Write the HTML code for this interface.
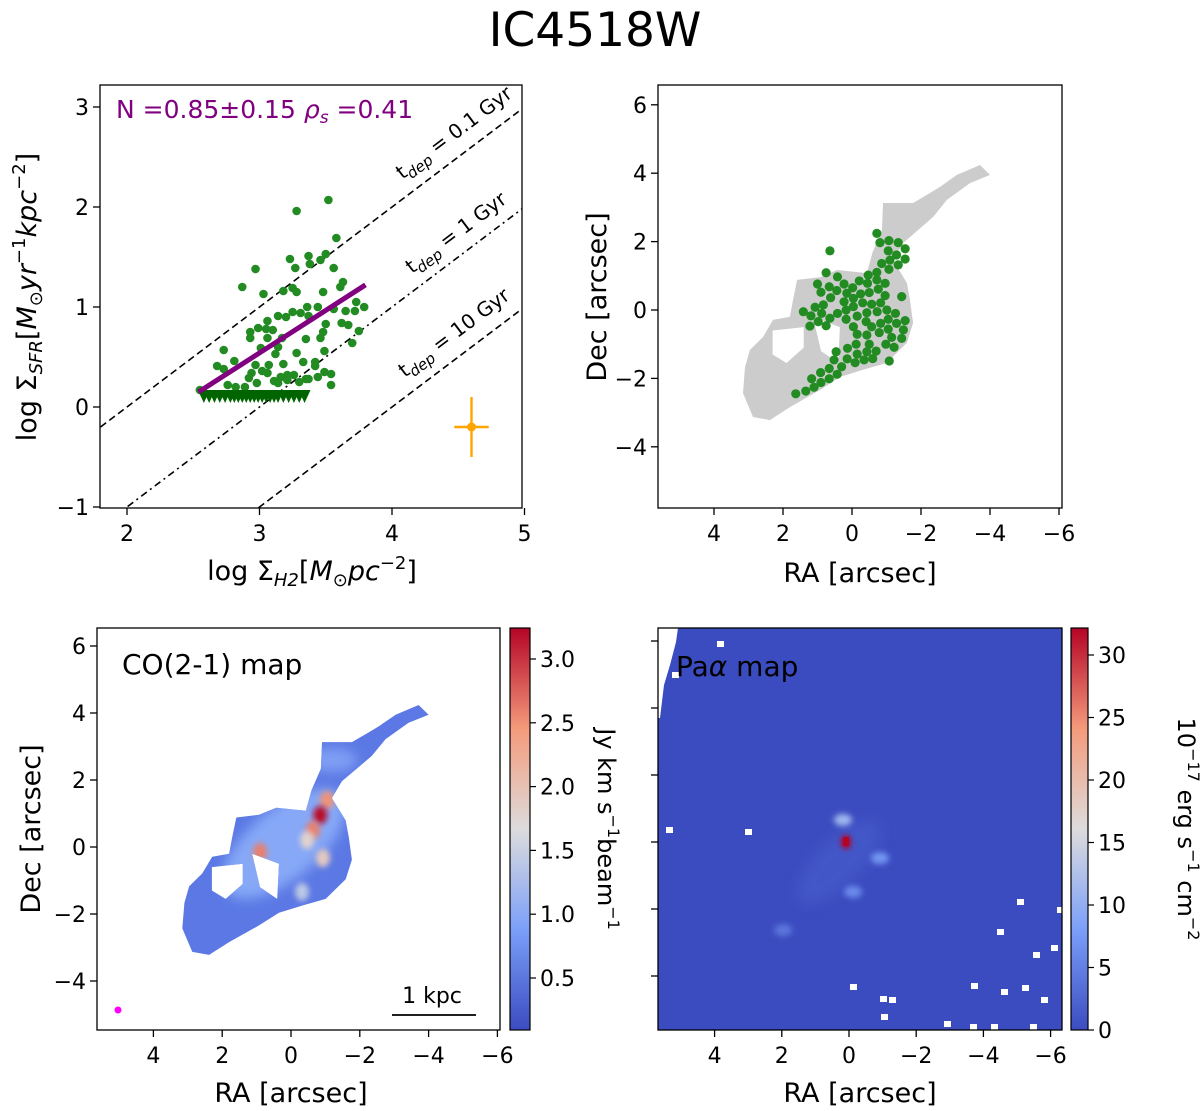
<!DOCTYPE html>
<html><head><meta charset="utf-8">
<style>
html,body{margin:0;padding:0;background:#fff;}
svg{display:block;font-family:"DejaVu Sans","Liberation Sans",sans-serif;}
</style></head>
<body>
<svg id="fig" width="1200" height="1111" viewBox="0 0 1200 1111" xmlns="http://www.w3.org/2000/svg">
<defs>
<filter id="blur3" x="-50%" y="-50%" width="200%" height="200%"><feGaussianBlur stdDeviation="3"/></filter>
<filter id="blur6" x="-50%" y="-50%" width="200%" height="200%"><feGaussianBlur stdDeviation="6"/></filter>
<linearGradient id="cw" x1="0" y1="1" x2="0" y2="0">
<stop offset="0" stop-color="#3b4cc0"/><stop offset="0.25" stop-color="#7b9ff9"/>
<stop offset="0.5" stop-color="#dddcdc"/><stop offset="0.75" stop-color="#f49a7b"/>
<stop offset="1" stop-color="#b40426"/></linearGradient>
<clipPath id="paclip"><rect x="658" y="628" width="404" height="402"/></clipPath>
</defs>
<text x="595" y="46" font-size="47" text-anchor="middle">IC4518W</text>
<g id="g1"></g>
<g id="g2"></g>
<g id="g3"></g>
<g id="g4"></g>
</svg>
<script>
// ---- data ----
const ksX=[3.52,3.28,3.58,3.37,3.50,3.23,3.46,3.38,3.27,3.56,2.97,3.63,3.61,2.87,3.25,3.28,3.18,3.48,3.03,3.73,3.79,3.36,3.44,3.65,3.72,3.25,3.31,3.37,3.14,3.20,3.06,3.56,3.62,3.67,3.50,2.99,2.93,3.05,3.10,3.75,2.93,3.06,3.48,3.46,3.35,3.70,3.17,3.14,3.01,2.73,3.49,3.28,3.12,2.81,2.68,2.73,2.97,3.07,3.18,3.33,3.42,3.42,3.02,3.06,2.94,3.16,3.21,3.26,3.35,3.37,3.44,3.49,3.54,3.54,2.92,2.98,3.11,3.14,2.76,2.82,2.89,3.30,3.21,2.55];
const ksY=[2.07,1.96,1.69,1.51,1.53,1.48,1.47,1.43,1.39,1.39,1.38,1.25,1.20,1.20,1.19,1.15,1.16,1.15,1.13,1.05,1.00,1.00,1.00,0.96,0.96,0.95,0.94,0.91,0.91,0.90,0.86,0.98,0.84,0.82,0.83,0.79,0.75,0.78,0.77,0.76,0.69,0.69,0.75,0.69,0.68,0.64,0.69,0.60,0.59,0.57,0.56,0.54,0.53,0.46,0.41,0.38,0.42,0.42,0.43,0.45,0.45,0.41,0.36,0.34,0.34,0.30,0.32,0.32,0.28,0.28,0.30,0.35,0.33,0.22,0.29,0.24,0.26,0.24,0.22,0.20,0.20,0.25,0.27,0.17];
const limX=[2.58,2.62,2.66,2.70,2.74,2.78,2.81,2.84,2.87,2.90,2.93,2.96,2.99,3.02,3.05,3.08,3.11,3.14,3.18,3.22,3.26,3.30,3.34];
const limY=0.11;
const fitSlope=0.85, fitX0=2.54, fitY0=0.15, fitX1=3.80;
const tdepOffsets=[-2,-3,-4];
const errPoint={x:4.6,y:-0.2,xe:0.13,ye:0.3};
const ksXTicks=[2,3,4,5], ksYTicks=[-1,0,1,2,3];
const pixRA=[-0.72,-0.81,-1.07,-1.34,-1.54,-1.05,-1.29,-1.54,-1.10,-0.86,-1.34,-1.07,0.64,0.75,0.42,1.00,0.66,0.90,0.44,0.23,-0.02,-0.21,-0.47,-0.72,-0.45,-0.72,-0.96,0.15,-0.04,-0.25,-0.50,-0.76,-0.96,-1.44,0.62,0.83,1.07,0.23,-0.04,-0.31,-0.57,-0.83,1.41,1.19,0.88,0.64,0.98,1.22,0.75,0.42,0.17,0.17,-0.15,-0.43,-0.73,-1.01,-1.26,-0.41,-0.57,-0.83,-1.05,-1.29,-1.54,-0.04,-0.15,-0.43,-0.79,-1.05,-1.15,-1.49,-1.44,-0.98,-1.22,0.13,-0.12,-0.50,-0.70,-0.15,-0.43,0.46,0.14,-0.09,-0.35,-0.60,-1.08,0.52,0.30,0.66,0.91,0.43,0.66,1.17,0.90,1.10,1.34,1.63];
const pixDec=[2.24,1.97,2.03,1.97,1.79,1.73,1.61,1.49,1.46,1.36,1.32,1.19,1.73,1.09,0.97,0.76,0.68,0.52,0.57,0.76,0.65,0.85,1.02,1.10,0.78,0.88,0.78,0.49,0.34,0.47,0.51,0.61,0.42,0.39,0.36,0.15,0.08,0.24,0.10,0.21,0.17,0.21,-0.05,-0.17,-0.10,-0.24,-0.34,-0.47,-0.46,-0.10,0.00,-0.27,-0.18,-0.08,-0.05,0.00,-0.10,-0.34,-0.49,-0.39,-0.27,-0.39,-0.31,-0.49,-0.71,-0.73,-0.66,-0.56,-0.80,-0.58,-0.83,-1.00,-1.09,-1.12,-1.00,-1.00,-1.20,-1.29,-1.22,-1.22,-1.43,-1.54,-1.46,-1.42,-1.49,-1.46,-1.66,-1.71,-1.83,-1.88,-2.01,-2.01,-2.12,-2.26,-2.37,-2.45];
const gasRA=[-4.0,-3.71,-3.04,-2.55,-2.26,-1.77,-0.9,-0.87,-0.6,-0.43,0.43,0.93,1.59,1.71,1.8,2.29,2.58,2.96,3.1,3.16,2.87,2.38,1.8,0.93,0.35,-0.32,-1.01,-1.59,-1.77,-1.68,-1.59,-1.19,-1.48,-2.35,-2.75,-3.42];
const gasDec=[3.95,4.24,3.95,3.6,3.42,3.13,3.13,2.34,1.7,1.08,1.17,0.96,0.88,0.29,-0.2,-0.29,-0.79,-1.17,-1.67,-2.43,-3.13,-3.22,-2.84,-2.34,-1.96,-1.75,-1.55,-0.96,-0.38,0.29,0.79,1.46,1.96,2.72,3.22,3.71];
const holeRA=[[2.3,1.4,1.4,1.9,2.3],[1.13,0.35,0.4,0.9]];
const holeDec=[[-0.6,-0.5,-1.1,-1.55,-1.3],[-0.2,-0.5,-1.55,-1.2]];
const coBlobRA=[-1.05,-0.85,-0.64,0.9,-0.47,-0.93,-0.32];
const coBlobDec=[1.40,0.95,0.51,-0.15,0.21,-0.33,-1.34];
const coBlobVal=[2.5,3.2,2.6,2.6,1.8,1.9,1.4];
const coTicks=[0.5,1.0,1.5,2.0,2.5,3.0];
const paBlobRA=[0.09,0.18,-0.92,-0.12,1.96];
const paBlobDec=[0.0,0.66,-0.48,-1.49,-2.63];
const paBlobVal=[32,11,7,6,4];
const paTicks=[0,5,10,15,20,25,30];
const raTicks=[4,2,0,-2,-4,-6], decTicks=[-4,-2,0,2,4,6];

// ---- helpers ----
const NS='http://www.w3.org/2000/svg';
const TF=22, AF=27;
function mk(parent,tag,attrs,text){const e=document.createElementNS(NS,tag);for(const k in attrs)e.setAttribute(k,attrs[k]);if(text!==undefined)e.textContent=text;parent.appendChild(e);return e;}
function lin(d0,d1,r0,r1){return v=>r0+(v-d0)*(r1-r0)/(d1-d0);}
function fmt(v){return (v<0?'\u2212':'')+Math.abs(v);}
function cwColor(t){t=Math.max(0,Math.min(1,t));const st=[[59,76,192],[123,159,249],[221,220,220],[244,154,123],[180,4,38]];const f=t*4,i=Math.min(3,Math.floor(f)),u=f-i;const a=st[i],b=st[i+1];return 'rgb('+a.map((c,j)=>Math.round(c+(b[j]-c)*u)).join(',')+')';}
function frame(g,x0,y0,x1,y1){const r=mk(g,'rect',{x:x0,y:y0,width:x1-x0,height:y1-y0,fill:'none',stroke:'#000','stroke-width':1.3});}
function xticks(g,ticks,sx,yb,labels){ticks.forEach(t=>{const x=sx(t);const l=mk(g,'line',{x1:x,x2:x,y1:yb,y2:yb+7,stroke:'#000','stroke-width':1.3});if(labels){const tx=mk(g,'text',{x:x,y:yb+33,'font-size':TF,'text-anchor':'middle'},fmt(t));}});}
function yticks(g,ticks,sy,xl,labels){ticks.forEach(t=>{const y=sy(t);const l=mk(g,'line',{x1:xl-7,x2:xl,y1:y,y2:y,stroke:'#000','stroke-width':1.3});if(labels){const tx=mk(g,'text',{x:xl-11,y:y+8,'font-size':TF,'text-anchor':'end'},fmt(t));}});}
function pathD(sx,sy,ra,dec){return 'M'+ra.map((r,i)=>sx(r).toFixed(1)+' '+sy(dec[i]).toFixed(1)).join('L')+'Z';}

// ---- panel 1: KS relation ----
(function(){
const g=document.getElementById('g1');
const sx=lin(2,5,127,524.5), sy=lin(0,3,407,107);
const X0=100,X1=522,Y0=85,Y1=508;
const clip=mk(g,'clipPath',{id:'c1'});mk(clip,'rect',{x:X0,y:Y0,width:X1-X0,height:Y1-Y0});
const cg=mk(g,'g',{'clip-path':'url(#c1)'});
const dashes=['7,4','7,4,2,4','7,4'];
tdepOffsets.forEach((o,i)=>{const l=mk(cg,'line',{x1:sx(1.8),y1:sy(1.8+o),x2:sx(5.1),y2:sy(5.1+o),stroke:'#000','stroke-width':1.6,'stroke-dasharray':dashes[i]});});
const labs=[['0.1',458,138],['1',460,238],['10',458,338]];
labs.forEach(([v,x,y])=>{const t=mk(cg,'text',{x:x,y:y,'font-size':20,'text-anchor':'middle',transform:'rotate(-37 '+x+' '+y+')'});
mk(t,'tspan',{},'t');mk(t,'tspan',{'font-size':15,'font-style':'italic',dy:5},'dep');mk(t,'tspan',{dy:-5},' = '+v+' Gyr');});
ksX.forEach((x,i)=>{const c=mk(cg,'circle',{cx:sx(x),cy:sy(ksY[i]),r:4.3,fill:'#228b22'});});
limX.forEach(x=>{const px=sx(x),py=sy(limY);const p=mk(cg,'polygon',{points:(px-6)+','+(py-6)+' '+(px+6)+','+(py-6)+' '+px+','+(py+7),fill:'#006400'});});
const fl=mk(cg,'line',{x1:sx(fitX0),y1:sy(fitY0),x2:sx(fitX1),y2:sy(fitY0+fitSlope*(fitX1-fitX0)),stroke:'#800080','stroke-width':5});
const ex=sx(errPoint.x),ey=sy(errPoint.y);
const eb=mk(g,'g',{stroke:'#ffa500','stroke-width':2.4});
mk(eb,'line',{x1:ex,x2:ex,y1:sy(errPoint.y+errPoint.ye),y2:sy(errPoint.y-errPoint.ye)});
mk(eb,'line',{x1:sx(errPoint.x-errPoint.xe),x2:sx(errPoint.x+errPoint.xe),y1:ey,y2:ey});
mk(eb,'circle',{cx:ex,cy:ey,r:4.5,fill:'#ffa500',stroke:'none'});
frame(g,X0,Y0,X1,Y1);
xticks(g,ksXTicks,sx,Y1,true);yticks(g,ksYTicks,sy,X0,true);
const ann=mk(g,'text',{x:116,y:118,'font-size':25,fill:'#800080'});
mk(ann,'tspan',{},'N =0.85\u00b10.15 ');mk(ann,'tspan',{'font-style':'italic'},'\u03c1');mk(ann,'tspan',{'font-size':17,dy:5,'font-style':'italic'},'s');mk(ann,'tspan',{dy:-5},' =0.41');
const xl=mk(g,'text',{x:312,y:580,'font-size':AF,'text-anchor':'middle'});
mk(xl,'tspan',{},'log \u03a3');mk(xl,'tspan',{'font-size':18,dy:6,'font-style':'italic'},'H2');mk(xl,'tspan',{dy:-6},'[');mk(xl,'tspan',{'font-style':'italic'},'M');mk(xl,'tspan',{'font-size':18,dy:6},'\u2299');mk(xl,'tspan',{dy:-6,'font-style':'italic'},'pc');mk(xl,'tspan',{'font-size':18,dy:-11},'\u22122');mk(xl,'tspan',{dy:11},']');
const yl=mk(g,'text',{x:36,y:297,'font-size':AF,'text-anchor':'middle',transform:'rotate(-90 36 297)'});
mk(yl,'tspan',{},'log \u03a3');mk(yl,'tspan',{'font-size':18,dy:6,'font-style':'italic'},'SFR');mk(yl,'tspan',{dy:-6},'[');mk(yl,'tspan',{'font-style':'italic'},'M');mk(yl,'tspan',{'font-size':18,dy:6},'\u2299');mk(yl,'tspan',{dy:-6,'font-style':'italic'},'yr');mk(yl,'tspan',{'font-size':18,dy:-11},'\u22121');mk(yl,'tspan',{dy:11,'font-style':'italic'},'kpc');mk(yl,'tspan',{'font-size':18,dy:-11},'\u22122');mk(yl,'tspan',{dy:11},']');
})();

function axisTitles(g,cx,cy,xlab,ylab){const t=mk(g,'text',{x:cx,y:cy,'font-size':AF,'text-anchor':'middle'},xlab);
if(ylab){const y=mk(g,'text',{x:ylab[0],y:ylab[1],'font-size':AF,'text-anchor':'middle',transform:'rotate(-90 '+ylab[0]+' '+ylab[1]+')'},'Dec [arcsec]');}}

// ---- panel 2: pixel map ----
(function(){
const g=document.getElementById('g2');
const sx=lin(0,1,852,817.5), sy=lin(0,1,310,275.8);
let d=pathD(sx,sy,gasRA,gasDec);holeRA.forEach((h,i)=>{d+=pathD(sx,sy,h,holeDec[i]);});
const gp=mk(g,'path',{d:d,fill:'#cccccc','fill-rule':'evenodd'});
pixRA.forEach((r,i)=>{const c=mk(g,'circle',{cx:sx(r),cy:sy(pixDec[i]),r:4.6,fill:'#228b22'});});
frame(g,658,85,1062,508);
xticks(g,raTicks,sx,508,true);yticks(g,decTicks,sy,658,true);
axisTitles(g,860,582,'RA [arcsec]',[606,297]);
})();

// ---- panel 3: CO map ----
(function(){
const g=document.getElementById('g3');
const sx=lin(0,1,291,256.6), sy=lin(0,1,847,813.5);
const cp=mk(g,'clipPath',{id:'coclip'});let d=pathD(sx,sy,gasRA,gasDec);holeRA.forEach((h,i)=>{d+=pathD(sx,sy,h,holeDec[i]);});
mk(cp,'path',{d:d,'clip-rule':'evenodd'});
const m=mk(g,'g',{'clip-path':'url(#coclip)'});
mk(m,'rect',{x:97,y:628,width:403,height:402,fill:'#5b78e4'});
mk(m,'ellipse',{cx:sx(0.2),cy:sy(0.1),rx:75,ry:35,fill:'#86a8f7',filter:'url(#blur6)',transform:'rotate(-40 '+sx(0.2)+' '+sy(0.1)+')'});
mk(m,'ellipse',{cx:sx(-1.2),cy:sy(2.6),rx:25,ry:12,fill:'#7f9ff4',filter:'url(#blur6)'});
const cs=lin(0.1,3.25,0,1);
coBlobRA.forEach((r,i)=>{const e=mk(m,'ellipse',{cx:sx(r),cy:sy(coBlobDec[i]),rx:7,ry:9,fill:cwColor(cs(coBlobVal[i])),filter:'url(#blur3)'});});
frame(g,97,628,500,1030);
xticks(g,raTicks,sx,1030,true);yticks(g,decTicks,sy,97,true);
axisTitles(g,291,1102,'RA [arcsec]',[40,829]);
const tl=mk(g,'text',{x:122,y:674,'font-size':28},'CO(2-1) map');
const bm=mk(g,'circle',{cx:118,cy:1010,r:3.5,fill:'#ff00ff'});
const sb=mk(g,'line',{x1:392,x2:476,y1:1015,y2:1015,stroke:'#000','stroke-width':1.8});
const st=mk(g,'text',{x:432,y:1003,'font-size':22,'text-anchor':'middle'},'1 kpc');
const cb=mk(g,'rect',{x:510,y:628,width:20,height:402,fill:'url(#cw)',stroke:'#000','stroke-width':1.2});
const cy=lin(0.5,3.0,978,659);
coTicks.forEach(t=>{mk(g,'line',{x1:530,x2:536,y1:cy(t),y2:cy(t),stroke:'#000','stroke-width':1.2});const tx=mk(g,'text',{x:540,y:cy(t)+8,'font-size':TF},t.toFixed(1));});
const cl=mk(g,'text',{x:598,y:829,'font-size':24,'text-anchor':'middle',transform:'rotate(90 598 829)'});
mk(cl,'tspan',{},'Jy km s');mk(cl,'tspan',{'font-size':16,dy:-10},'\u22121');mk(cl,'tspan',{dy:10},'beam');mk(cl,'tspan',{'font-size':16,dy:-10},'\u22121');
})();

// ---- panel 4: Pa alpha map ----
(function(){
const g=document.getElementById('g4');
const sx=lin(0,1,849,815.4), sy=lin(0,1,842,808.5);
const m=mk(g,'g',{'clip-path':'url(#paclip)'});
mk(m,'rect',{x:658,y:628,width:404,height:402,fill:'#3b4cc0'});
mk(m,'ellipse',{cx:sx(0.3),cy:sy(-0.6),rx:55,ry:22,fill:'#4357c8',filter:'url(#blur6)',transform:'rotate(-45 '+sx(0.3)+' '+sy(-0.6)+')'});
const cs=lin(0,32,0,1);
paBlobRA.forEach((r,i)=>{const v=paBlobVal[i];const e=mk(m,'ellipse',{cx:sx(r),cy:sy(paBlobDec[i]),rx:v>20?5:9,ry:v>20?7:6,fill:cwColor(cs(v)),filter:'url(#blur3)'});});
mk(m,'rect',{x:843,y:837,width:6,height:9,fill:'#b40426'});
mk(m,'polygon',{points:'658,628 678,628 676,642 670,665 664,685 660,718 658,718',fill:'#fff'});
[[721,644],[670,830],[749,832],[1021,902],[1001,932],[1037,955],[1055,948],[854,987],[884,999],[893,1000],[885,1017],[975,986],[1005,992],[1026,988],[1045,1000],[948,1024],[974,1027],[995,1027],[1034,1027],[1061,910],[676,675]].forEach(p=>{const r=mk(m,'rect',{x:p[0]-4,y:p[1]-3,width:7,height:6,fill:'#fff'});});
frame(g,658,628,1062,1030);
xticks(g,raTicks,sx,1030,true);yticks(g,decTicks,sy,658,false);
axisTitles(g,860,1102,'RA [arcsec]',null);
const tl=mk(g,'text',{x:676,y:676,'font-size':28});
mk(tl,'tspan',{},'Pa');mk(tl,'tspan',{'font-style':'italic'},'\u03b1');mk(tl,'tspan',{},' map');
const cb=mk(g,'rect',{x:1071,y:628,width:17,height:402,fill:'url(#cw)',stroke:'#000','stroke-width':1.2});
const cy=lin(0,30,1030,655);
paTicks.forEach(t=>{mk(g,'line',{x1:1088,x2:1094,y1:cy(t),y2:cy(t),stroke:'#000','stroke-width':1.2});const tx=mk(g,'text',{x:1098,y:cy(t)+8,'font-size':TF},String(t));});
const cl=mk(g,'text',{x:1178,y:829,'font-size':24,'text-anchor':'middle',transform:'rotate(90 1178 829)'});
mk(cl,'tspan',{},'10');mk(cl,'tspan',{'font-size':16,dy:-10},'\u221217');mk(cl,'tspan',{dy:10},' erg s');mk(cl,'tspan',{'font-size':16,dy:-10},'\u22121');mk(cl,'tspan',{dy:10},' cm');mk(cl,'tspan',{'font-size':16,dy:-10},'\u22122');
})();
</script>
</body></html>
